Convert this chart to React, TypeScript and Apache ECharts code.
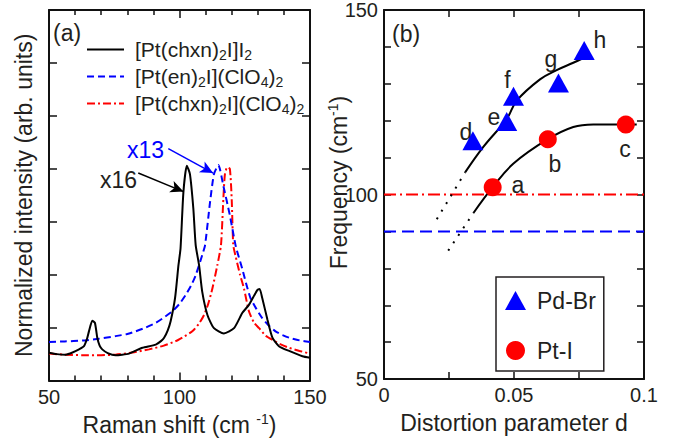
import React, { useEffect, useRef } from "react";
import * as echarts from "echarts";

// ---------- data ----------
// Panel (a): Raman spectra, [Raman shift (cm-1), normalized intensity]
const spectrumChxnI2: number[][] = [
  [50, 0.525], [53, 0.5], [56.4, 0.49], [59, 0.53], [61.5, 0.59], [63.4, 0.65], [64.5, 0.78],
  [65.3, 0.93], [66.6, 1.13], [67.6, 1.09], [68.5, 0.81], [69.4, 0.66], [70.4, 0.59], [72.5, 0.52],
  [75.5, 0.48], [78, 0.49], [80.7, 0.51], [83, 0.56], [85.8, 0.62], [90.9, 0.68], [93, 0.75],
  [94.1, 0.81], [95.5, 0.95], [96.6, 1.12], [98.3, 1.56], [99.6, 2.18], [100.4, 2.5], [101.5, 3.56],
  [102.8, 4.06], [104.0, 3.9], [105.3, 3.25], [106.2, 2.56], [107.5, 2.18], [108.7, 1.68],
  [110.7, 1.24], [113.2, 0.99], [117.0, 0.89], [120.9, 0.99], [124.1, 1.28], [126.6, 1.43],
  [129.8, 1.71], [130.7, 1.73], [131.7, 1.56], [133.7, 1.15], [135.6, 0.81], [138.1, 0.65],
  [142.0, 0.56], [147.1, 0.46], [150, 0.43],
];
const spectrumEnClO4: number[][] = [
  [50, 0.73], [56, 0.74], [62.8, 0.756], [69, 0.79], [75.5, 0.84], [80, 0.88], [83.2, 0.93],
  [87, 1.0], [90.9, 1.09], [94, 1.19], [97.3, 1.31], [100, 1.45], [102.4, 1.62], [104.5, 1.8],
  [106.2, 1.99], [108.7, 2.37], [109.8, 2.56], [111.7, 3.37], [113.2, 3.9], [114.9, 4.07],
  [116.8, 3.68], [119.3, 3.12], [121.6, 2.53], [124, 2.12], [125.6, 1.82], [127.2, 1.56],
  [129.5, 1.35], [131.7, 1.18], [134, 1.05], [136.8, 0.93], [139.5, 0.86], [142, 0.81],
  [146, 0.76], [150, 0.73],
];
const spectrumChxnClO4: number[][] = [
  [50, 0.51], [56, 0.49], [62.8, 0.48], [70, 0.48], [75.5, 0.49], [82, 0.53], [88.3, 0.59],
  [94, 0.66], [98.5, 0.745], [102, 0.84], [104.9, 0.93], [107.5, 1.08], [109.4, 1.24], [111, 1.45],
  [112.6, 1.74], [114.5, 2.18], [115.9, 2.56], [116.8, 3.43], [117.4, 3.9], [118.3, 4.03],
  [119.3, 4.0], [120.0, 3.43], [120.6, 2.56], [121.5, 2.35], [123.2, 2.0], [124.7, 1.74],
  [126.6, 1.31], [128.5, 1.1], [130.5, 0.99], [133, 0.85], [135.6, 0.77], [139, 0.68],
  [142, 0.62], [146, 0.56], [150, 0.51],
];
// annotation arrows (data coordinates: start -> tip)
const arrowX16: number[][] = [[84.2, 3.92], [101.5, 3.57]];
const arrowX13: number[][] = [[95.7, 4.38], [112.9, 3.92]];

// Panel (b): frequency vs distortion parameter d
const pdBrLabels = ["d", "e", "f", "g", "h"];
const pdBrPoints: number[][] = [
  [0.0342, 114.6], [0.0472, 119.8], [0.0498, 126.6], [0.0671, 130.2], [0.077, 139.0],
];
const ptILabels = ["a", "b", "c"];
const ptIPoints: number[][] = [[0.0418, 102.0], [0.063, 115.0], [0.093, 119.0]];
const upperFit: number[][] = [
  [0.0312, 106.0], [0.0382, 112.9], [0.0472, 120.5], [0.051, 125.4], [0.06, 131.2],
  [0.0664, 133.7], [0.0728, 135.7], [0.0767, 137.0],
];
const upperExtrap: number[][] = [[0.0203, 93.3], [0.0312, 106.0]];
const lowerFit: number[][] = [
  [0.0344, 95.0], [0.0418, 102.0], [0.0498, 108.4], [0.063, 115.0], [0.0728, 118.3],
  [0.0805, 119.0], [0.0972, 119.0],
];
const lowerExtrap: number[][] = [[0.0247, 84.8], [0.0344, 95.0]];
const ptIFreqLine: number[][] = [[0, 100], [0.1, 100]];
const pdBrFreqLine: number[][] = [[0, 90], [0.1, 90]];

// tick labels
const ramanTickLabels = ["50", "100", "150"];
const distortionTickLabels: Record<string, string> = { "0": "0", "0.05": "0.05", "0.1": "0.1" };
const freqTickLabels = ["50", "100", "150"];

// legend names
const seriesNames = ["[Pt(chxn)2I]I2", "[Pt(en)2I](ClO4)2", "[Pt(chxn)2I](ClO4)2"];
const legendRich: Record<string, string> = {
  "[Pt(chxn)2I]I2": "{t|[Pt(chxn)}{s|2}{t|I]I}{s|2}",
  "[Pt(en)2I](ClO4)2": "{t|[Pt(en)}{s|2}{t|I](ClO}{s|4}{t|)}{s|2}",
  "[Pt(chxn)2I](ClO4)2": "{t|[Pt(chxn)}{s|2}{t|I](ClO}{s|4}{t|)}{s|2}",
};

// ---------- styling ----------
const FONT = '"Liberation Sans", Arial, Helvetica, sans-serif';
const TXT = "#231f20";
const BLUE = "#0000ff";
const RED = "#ff0000";
const AX = "#111111";

function App() {
  const ref = useRef<HTMLDivElement>(null);

  useEffect(() => {
    if (!ref.current) return;
    const chart = echarts.init(ref.current, null, { renderer: "svg" });

    const axisLine = { show: true, onZero: false, lineStyle: { color: AX, width: 2 } };
    const tick = (len: number) => ({ show: true, inside: true, length: len, lineStyle: { color: AX, width: 1.5 } });
    const labelStyle = { fontFamily: FONT, fontSize: 20, color: TXT };
    const richName = {
      t: { fontFamily: FONT, fontSize: 23, color: TXT, lineHeight: 26 },
      u: { fontFamily: FONT, fontSize: 14, color: TXT, lineHeight: 14, verticalAlign: "top" },
    };
    const letter = (text: string, x: number, y: number, fill = TXT) => ({
      type: "text", x, y,
      style: { text, font: `23px ${FONT}`, fill, align: "center", verticalAlign: "middle" },
    });

    const option: any = {
      animation: false,
      backgroundColor: "#ffffff",
      grid: [
        { left: 49, top: 10, width: 261, height: 373, containLabel: false },
        { left: 384, top: 10, width: 260, height: 373, containLabel: false },
      ],
      xAxis: [
        {
          gridIndex: 0, type: "value", min: 50, max: 150, interval: 50, position: "bottom",
          axisLine, axisTick: tick(8),
          minorTick: { show: true, splitNumber: 5, length: 5, lineStyle: { color: AX, width: 1.5 } },
          splitLine: { show: false }, minorSplitLine: { show: false },
          axisLabel: {
            ...labelStyle, margin: 6,
            formatter: (v: number) => (ramanTickLabels.includes(String(v)) ? String(v) : ""),
          },
          name: "{t|Raman shift (cm }{u|-1}{t|)}", nameLocation: "middle", nameGap: 27,
          nameTextStyle: { fontFamily: FONT, fontSize: 23, color: TXT, rich: richName },
        },
        {
          gridIndex: 0, type: "value", min: 50, max: 150, interval: 50, position: "top",
          axisLine, axisTick: tick(8),
          minorTick: { show: true, splitNumber: 5, length: 5, lineStyle: { color: AX, width: 1.5 } },
          splitLine: { show: false }, axisLabel: { show: false },
        },
        {
          gridIndex: 1, type: "value", min: 0, max: 0.1, interval: 0.025, position: "bottom",
          axisLine, axisTick: tick(7), splitLine: { show: false },
          axisLabel: {
            ...labelStyle, margin: 6,
            formatter: (v: number) => distortionTickLabels[String(Math.round(v * 1000) / 1000)] ?? "",
          },
          name: "Distortion parameter d", nameLocation: "middle", nameGap: 27,
          nameTextStyle: { fontFamily: FONT, fontSize: 23, color: TXT, lineHeight: 26 },
        },
        {
          gridIndex: 1, type: "value", min: 0, max: 0.1, interval: 0.025, position: "top",
          axisLine, axisTick: tick(7), splitLine: { show: false }, axisLabel: { show: false },
        },
      ],
      yAxis: [
        {
          gridIndex: 0, type: "value", min: 0, max: 7, interval: 1, position: "left",
          axisLine, axisTick: tick(8), splitLine: { show: false }, axisLabel: { show: false },
          name: "Normalized intensity (arb. units)", nameLocation: "middle", nameRotate: 90, nameGap: 12,
          nameTextStyle: { fontFamily: FONT, fontSize: 23, color: TXT, lineHeight: 26 },
        },
        {
          gridIndex: 0, type: "value", min: 0, max: 7, interval: 1, position: "right",
          axisLine, axisTick: tick(8), splitLine: { show: false }, axisLabel: { show: false },
        },
        {
          gridIndex: 1, type: "value", min: 50, max: 150, interval: 10, position: "left",
          axisLine, axisTick: tick(7), splitLine: { show: false },
          axisLabel: {
            ...labelStyle, margin: 6,
            formatter: (v: number) => (freqTickLabels.includes(String(v)) ? String(v) : ""),
          },
          name: "{t|Frequency (cm}{u|-1}{t|)}", nameLocation: "middle", nameRotate: 90, nameGap: 32,
          nameMoveOverlap: false,
          nameTextStyle: { fontFamily: FONT, fontSize: 23, color: TXT, rich: richName, padding: [0, 0, 0, 24] },
        },
        {
          gridIndex: 1, type: "value", min: 50, max: 150, interval: 10, position: "right",
          axisLine, axisTick: tick(7), splitLine: { show: false }, axisLabel: { show: false },
        },
      ],
      legend: [
        {
          orient: "vertical", left: 86, top: 39, padding: 0, itemWidth: 37, itemHeight: 12, itemGap: 4.5,
          data: seriesNames, selectedMode: false,
          itemStyle: { opacity: 0, borderWidth: 0 },
          formatter: (name: string) => legendRich[name] ?? name,
          textStyle: {
            fontFamily: FONT, fontSize: 21, color: TXT, padding: [0, 0, 0, 6],
            rich: {
              t: { fontFamily: FONT, fontSize: 21, color: TXT, lineHeight: 24 },
              s: { fontFamily: FONT, fontSize: 14, color: TXT, lineHeight: 10, verticalAlign: "bottom" },
            },
          },
        },
        {
          orient: "vertical", left: 496, top: 277, padding: [12, 8, 9, 9],
          itemWidth: 21, itemHeight: 19, itemGap: 27, selectedMode: false,
          borderColor: TXT, borderWidth: 1.5, backgroundColor: "#ffffff",
          data: ["Pd-Br", "Pt-I"],
          textStyle: { fontFamily: FONT, fontSize: 23, color: TXT, padding: [0, 0, 0, 6] },
        },
      ],
      series: [
        {
          name: seriesNames[2], type: "line", xAxisIndex: 0, yAxisIndex: 0, data: spectrumChxnClO4,
          symbol: "none", smooth: 0.2, lineStyle: { color: RED, width: 2, type: [8, 3, 2, 3] },
          itemStyle: { color: RED },
        },
        {
          name: seriesNames[1], type: "line", xAxisIndex: 0, yAxisIndex: 0, data: spectrumEnClO4,
          symbol: "none", smooth: 0.2, lineStyle: { color: BLUE, width: 2, type: [7, 4] },
          itemStyle: { color: BLUE },
          markLine: {
            silent: true, symbol: ["none", "arrow"], symbolSize: [9, 13], animation: false,
            label: { show: false }, lineStyle: { color: BLUE, width: 1.5, type: "solid" },
            data: [[{ coord: arrowX13[0] }, { coord: arrowX13[1] }]],
          },
        },
        {
          name: seriesNames[0], type: "line", xAxisIndex: 0, yAxisIndex: 0, data: spectrumChxnI2,
          symbol: "none", smooth: 0.2, lineStyle: { color: "#000000", width: 2 },
          itemStyle: { color: "#000000" },
          markLine: {
            silent: true, symbol: ["none", "arrow"], symbolSize: [9, 13], animation: false,
            label: { show: false }, lineStyle: { color: "#000000", width: 1.5, type: "solid" },
            data: [[{ coord: arrowX16[0] }, { coord: arrowX16[1] }]],
          },
        },
        {
          name: "Pt-I 100", type: "line", xAxisIndex: 2, yAxisIndex: 2, data: ptIFreqLine,
          symbol: "none", lineStyle: { color: RED, width: 2, type: [12, 4, 2, 4] },
        },
        {
          name: "Pd-Br 90", type: "line", xAxisIndex: 2, yAxisIndex: 2, data: pdBrFreqLine,
          symbol: "none", lineStyle: { color: BLUE, width: 2, type: [12, 6] },
        },
        {
          name: "upper fit", type: "line", xAxisIndex: 2, yAxisIndex: 2, data: upperFit,
          symbol: "none", smooth: 0.4, lineStyle: { color: "#000000", width: 2 },
        },
        {
          name: "upper extrap", type: "line", xAxisIndex: 2, yAxisIndex: 2, data: upperExtrap,
          symbol: "none", lineStyle: { color: "#000000", width: 2, type: [2, 7] },
        },
        {
          name: "lower fit", type: "line", xAxisIndex: 2, yAxisIndex: 2, data: lowerFit,
          symbol: "none", smooth: 0.4, lineStyle: { color: "#000000", width: 2 },
        },
        {
          name: "lower extrap", type: "line", xAxisIndex: 2, yAxisIndex: 2, data: lowerExtrap,
          symbol: "none", lineStyle: { color: "#000000", width: 2, type: [2, 7] },
        },
        {
          name: "Pd-Br", type: "scatter", xAxisIndex: 2, yAxisIndex: 2, data: pdBrPoints,
          symbol: "triangle", symbolSize: [21, 19], itemStyle: { color: BLUE, opacity: 1 }, z: 5,
        },
        {
          name: "Pt-I", type: "scatter", xAxisIndex: 2, yAxisIndex: 2, data: ptIPoints,
          symbol: "circle", symbolSize: 18, itemStyle: { color: RED, opacity: 1 }, z: 5,
        },
      ],
      graphic: [
        { type: "text", left: 53, top: 21, style: { text: "(a)", font: `23px ${FONT}`, fill: TXT } },
        { type: "text", left: 392, top: 22, style: { text: "(b)", font: `23px ${FONT}`, fill: TXT } },
        letter("x16", 118.5, 180),
        letter("x13", 145.5, 150, BLUE),
        ...[[465.8, 132], [494, 117], [507.5, 80], [551, 59], [600, 40]].map((p, i) =>
          letter(pdBrLabels[i], p[0], p[1])
        ),
        ...[[518, 185], [555, 164], [625, 149]].map((p, i) => letter(ptILabels[i], p[0], p[1])),
      ],
    };

    chart.setOption(option);
    return () => chart.dispose();
  }, []);

  return <div ref={ref} style={{ position: "absolute", left: 0, top: 0, width: 684, height: 441 }} />;
}

export default App;
